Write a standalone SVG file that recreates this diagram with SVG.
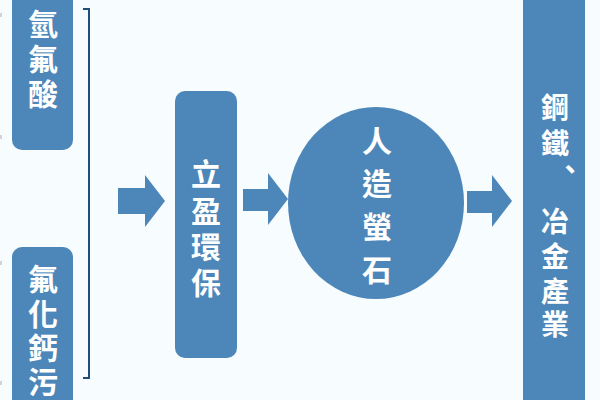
<svg xmlns="http://www.w3.org/2000/svg" width="600" height="400" viewBox="0 0 600 400">
<style>
.box{fill:#4d87b9;}
.lbl{fill:#ffffff;font-family:"Noto Sans CJK TC","Noto Sans CJK SC",sans-serif;font-weight:bold;font-size:30px;text-anchor:middle;dominant-baseline:central;}
.sm{font-size:28px;}
.arrow{fill:#4d87b9;}
.brk{fill:none;stroke:#1f4e79;stroke-width:2;}
.mark{fill:#d8d0dc;}
</style>
<rect width="600" height="400" fill="#f7fcfe"/>
<g id="edge-marks">
<rect class="mark" x="0" y="13" width="2" height="4"/>
<rect class="mark" x="0" y="135" width="2" height="4"/>
<rect class="mark" x="0" y="261" width="2" height="4"/>
<rect class="mark" x="0" y="381" width="2" height="4"/>
</g>
<g id="node-hf">
<rect class="box" x="12" y="-20" width="61" height="170" rx="10"/>
<text class="lbl"><tspan x="43" y="22">氫</tspan><tspan x="43" y="57">氟</tspan><tspan x="43" y="92">酸</tspan></text>
</g>
<g id="node-caf2">
<rect class="box" x="12" y="247" width="61" height="180" rx="10"/>
<text class="lbl"><tspan x="43" y="277">氟</tspan><tspan x="43" y="312">化</tspan><tspan x="43" y="346">鈣</tspan><tspan x="43" y="380">污</tspan></text>
</g>
<g id="node-liying">
<rect class="box" x="175" y="91" width="62" height="267" rx="10"/>
<text class="lbl"><tspan x="206" y="172">立</tspan><tspan x="206" y="209">盈</tspan><tspan x="206" y="245">環</tspan><tspan x="206" y="281">保</tspan></text>
</g>
<g id="node-fluorite">
<ellipse class="box" cx="376" cy="203" rx="88" ry="96"/>
<text class="lbl"><tspan x="377" y="139">人</tspan><tspan x="377" y="182">造</tspan><tspan x="377" y="225">螢</tspan><tspan x="377" y="268">石</tspan></text>
</g>
<g id="node-steel">
<rect class="box" x="523" y="0" width="62" height="400"/>
<text class="lbl sm"><tspan x="555" y="106">鋼</tspan><tspan x="555" y="142">鐵</tspan><tspan x="570" y="168">、</tspan><tspan x="555" y="220">冶</tspan><tspan x="555" y="255">金</tspan><tspan x="555" y="290">產</tspan><tspan x="555" y="323">業</tspan></text>
</g>
<g id="connectors">
<path class="brk" d="M83,9 H89 V378 H83"/>
<polygon class="arrow" points="118,188 145,188 145,175 165,201 145,227 145,214 118,214"/>
<polygon class="arrow" points="243,189 268,189 268,173 288,199 268,225 268,211 243,211"/>
<polygon class="arrow" points="467,191 492,191 492,175 512,201 492,227 492,213 467,213"/>
</g>
</svg>
